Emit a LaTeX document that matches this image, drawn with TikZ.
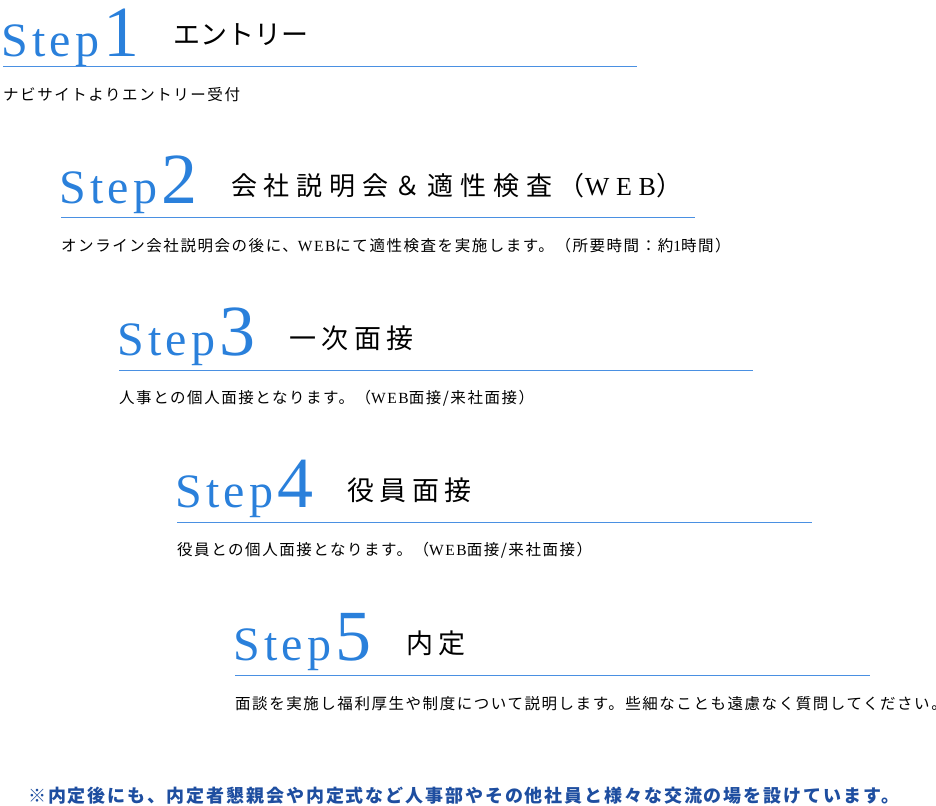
\documentclass[tikz,border=0pt]{standalone}
\usepackage{fontspec}
\setmainfont{Liberation Serif}
\newfontfamily\stepfont[LetterSpace=9]{Liberation Serif}
\newfontfamily\jpfont{Noto Sans CJK JP}
\newfontfamily\jptitlefont[LetterSpace=20]{Noto Sans CJK JP}
\newfontfamily\jpwidetitlefont[LetterSpace=26]{Noto Sans CJK JP}
\newfontfamily\lattitlefont[LetterSpace=26]{Liberation Serif}
\newfontfamily\jpdescfont[LetterSpace=10]{Noto Sans CJK JP}
\newfontfamily\latdescfont[LetterSpace=10]{Liberation Serif}
\newfontfamily\jpnotefont[LetterSpace=10.5]{Noto Sans CJK JP}
\usetikzlibrary{positioning}
\definecolor{stepblue}{RGB}{42,128,219}
\definecolor{lineblue}{RGB}{74,144,226}
\definecolor{noteblue}{RGB}{30,78,160}
\tikzstyle{steplabel} = [anchor=base west, inner sep=0pt, text=stepblue]
\tikzstyle{steptitle} = [anchor=west, inner sep=0pt, font=\jptitlefont\fontsize{27}{27}\selectfont]
\tikzstyle{stepdesc} = [anchor=west, inner sep=0pt, font=\jpdescfont\fontsize{15.5}{16}\selectfont]
\tikzstyle{underline} = [draw=lineblue, line width=1pt]
\tikzstyle{note} = [anchor=west, inner sep=0pt, text=noteblue, font=\jpnotefont\bfseries\fontsize{18}{18}\selectfont]
\newcommand{\steptext}[1]{{\stepfont\fontsize{48}{48}\selectfont Step}\hspace{4pt}{\fontsize{72}{72}\selectfont #1}}

\begin{document}
\begin{tikzpicture}[x=1pt, y=-1pt]
 \useasboundingbox (0,0) rectangle (936,805);

 % Step 1
 \node (step1) [steplabel] at (1,56.5) {\steptext{1}};
 \node (title1) [steptitle, font=\jpfont\fontsize{27}{27}\selectfont] at (173,34.5) {エントリー};
 \draw [underline] (3,66.5) -- (637,66.5);
 \node (desc1) [stepdesc] at (3,94.5) {ナビサイトよりエントリー受付};

 % Step 2
 \node (step2) [steplabel] at (59,203) {\steptext{2}};
 \node (title2) [steptitle, font=\jpwidetitlefont\fontsize{26}{26}\selectfont] at (231,185.5) {会社説明会＆適性検査（{\lattitlefont WEB}）};
 \draw [underline] (61,217.5) -- (695,217.5);
 \node (desc2) [stepdesc] at (61,245.5) {オンライン会社説明会の後に、{\latdescfont WEB}にて適性検査を実施します。（所要時間：約{\latdescfont 1}時間）};

 % Step 3
 \node (step3) [steplabel] at (117,355) {\steptext{3}};
 \node (title3) [steptitle] at (289,338.5) {一次面接};
 \draw [underline] (119,370.5) -- (753,370.5);
 \node (desc3) [stepdesc] at (119,398.5) {人事との個人面接となります。（{\latdescfont WEB}面接/来社面接）};

 % Step 4
 \node (step4) [steplabel] at (175,507) {\steptext{4}};
 \node (title4) [steptitle] at (347,490.5) {役員面接};
 \draw [underline] (177,522.5) -- (812,522.5);
 \node (desc4) [stepdesc] at (177,550.5) {役員との個人面接となります。（{\latdescfont WEB}面接/来社面接）};

 % Step 5
 \node (step5) [steplabel] at (233,660) {\steptext{5}};
 \node (title5) [steptitle] at (406,643.5) {内定};
 \draw [underline] (235,675.5) -- (870,675.5);
 \node (desc5) [stepdesc] at (235,703.5) {面談を実施し福利厚生や制度について説明します。些細なことも遠慮なく質問してください。};

 \node (note) [note] at (28,795.5) {※内定後にも、内定者懇親会や内定式など人事部やその他社員と様々な交流の場を設けています。};
\end{tikzpicture}
\end{document}
